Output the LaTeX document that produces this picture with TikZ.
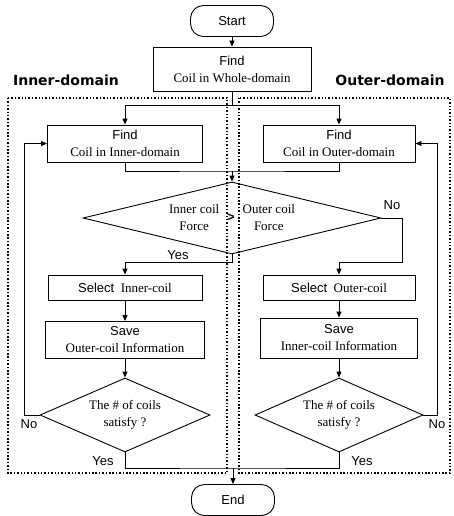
\documentclass[tikz,border=0pt]{standalone}
\usepackage{fontspec}
\setmainfont{Liberation Serif}
\setsansfont{Liberation Sans}
\newfontfamily\domainfont{DejaVu Sans}
\usetikzlibrary{shapes.geometric,arrows.meta}

\tikzset{
  flowbox/.style={draw,line width=0.9pt,inner sep=0pt,align=center,font=\fontsize{13}{17}\selectfont},
  termbox/.style={draw,line width=0.9pt,rounded corners=13pt,minimum width=83pt,minimum height=31pt,font=\sffamily\fontsize{13}{15}\selectfont},
  decision/.style={draw,diamond,line width=0.9pt,inner sep=0pt,align=center,font=\fontsize{13}{17}\selectfont},
  flow/.style={line width=0.9pt,-{Triangle[length=6pt,width=5pt]}},
  link/.style={line width=0.9pt},
  domainbox/.style={line width=1.5pt,dash pattern=on 1.5pt off 1.9pt},
  domainlabel/.style={font=\domainfont\bfseries\fontsize{14}{16}\selectfont},
  answer/.style={font=\sffamily\fontsize{13}{15}\selectfont},
}

\begin{document}
\begin{tikzpicture}[x=1pt,y=-1pt]
\useasboundingbox (0,0) rectangle (454,516);
% The two domains
\draw[domainbox] (8,98) rectangle (227,473);
\draw[domainbox] (239,98) rectangle (450,473);
\node[domainlabel] (innerlab) at (66,80) {Inner-domain};
\node[domainlabel] (outerlab) at (390,80) {Outer-domain};

% Start and the whole domain
\node[termbox] (start) at (232,21) {Start};
\node[flowbox,minimum width=158pt,minimum height=44pt] (whole) at (232,69) {\textsf{Find}\\Coil in Whole-domain};
\draw[flow] (start) -- (whole);

% Search in each domain
\node[flowbox,minimum width=155pt,minimum height=37pt] (findin) at (125,143.5) {\textsf{Find}\\Coil in Inner-domain};
\node[flowbox,minimum width=152pt,minimum height=37pt] (findout) at (339,143.5) {\textsf{Find}\\Coil in Outer-domain};
\coordinate (split) at (232,105);
\draw[link] (whole) -- (split);
\draw[flow] (split) -| (findin);
\draw[flow] (split) -| (findout);

% Compare the forces
\node[decision,aspect=4.6,minimum width=298pt,minimum height=72pt] (force) at (232,218)
  {\parbox{58pt}{\centering Inner coil\\Force}\hspace{4pt}\textsf{\textbf{>}}\hspace{4pt}\parbox{60pt}{\centering Outer coil\\Force}};
\coordinate (join) at (232,171);
\draw[link] (findin) |- (join) -| (findout);
\draw[flow] (join) -- (force);

% Branches
\node[flowbox,minimum width=154pt,minimum height=25pt] (selin) at (125,287.5) {\textsf{Select}\ \ Inner-coil};
\node[flowbox,minimum width=152pt,minimum height=25pt] (selout) at (339,287.5) {\textsf{Select}\ \ Outer-coil};
\coordinate (yesturn) at (125,262);
\coordinate (noturn) at (402,262);
\draw[flow] (force.south) |- (yesturn) -- (selin);
\draw[flow] (force.east) -| (noturn) -| (selout);
\node[answer] (yeslab) at (178,255) {Yes};
\node[answer] (nolab) at (392,205) {No};

% Save the other coil
\node[flowbox,minimum width=159pt,minimum height=37pt] (savein) at (125,340) {\textsf{Save}\\Outer-coil Information};
\node[flowbox,minimum width=157pt,minimum height=40pt] (saveout) at (339,338) {\textsf{Save}\\Inner-coil Information};
\draw[flow] (selin) -- (savein);
\draw[flow] (selout) -- (saveout);

% Number of coils
\node[decision,aspect=2.8,minimum width=170pt,minimum height=74pt] (enoughin) at (125,415) {The \# of coils\\satisfy ?};
\node[decision,aspect=2.8,minimum width=168pt,minimum height=74pt] (enoughout) at (339,415) {The \# of coils\\satisfy ?};
\draw[flow] (savein) -- (enoughin);
\draw[flow] (saveout) -- (enoughout);

% Loops back
\coordinate (backin) at (24,415);
\coordinate (backout) at (437,415);
\draw[flow] (enoughin.west) -- (backin) |- (findin);
\draw[flow] (enoughout.east) -- (backout) |- (findout);
\node[answer] (noinlab) at (29,424) {No};
\node[answer] (nooutlab) at (437,424) {No};

% End
\node[termbox] (end) at (233,500) {End};
\coordinate (merge) at (233,468);
\draw[link] (enoughin.south) |- (merge) -| (enoughout.south);
\draw[flow] (merge) -- (end);
\node[answer] (yesinlab) at (103,461) {Yes};
\node[answer] (yesoutlab) at (362,461) {Yes};

\end{tikzpicture}
\end{document}
